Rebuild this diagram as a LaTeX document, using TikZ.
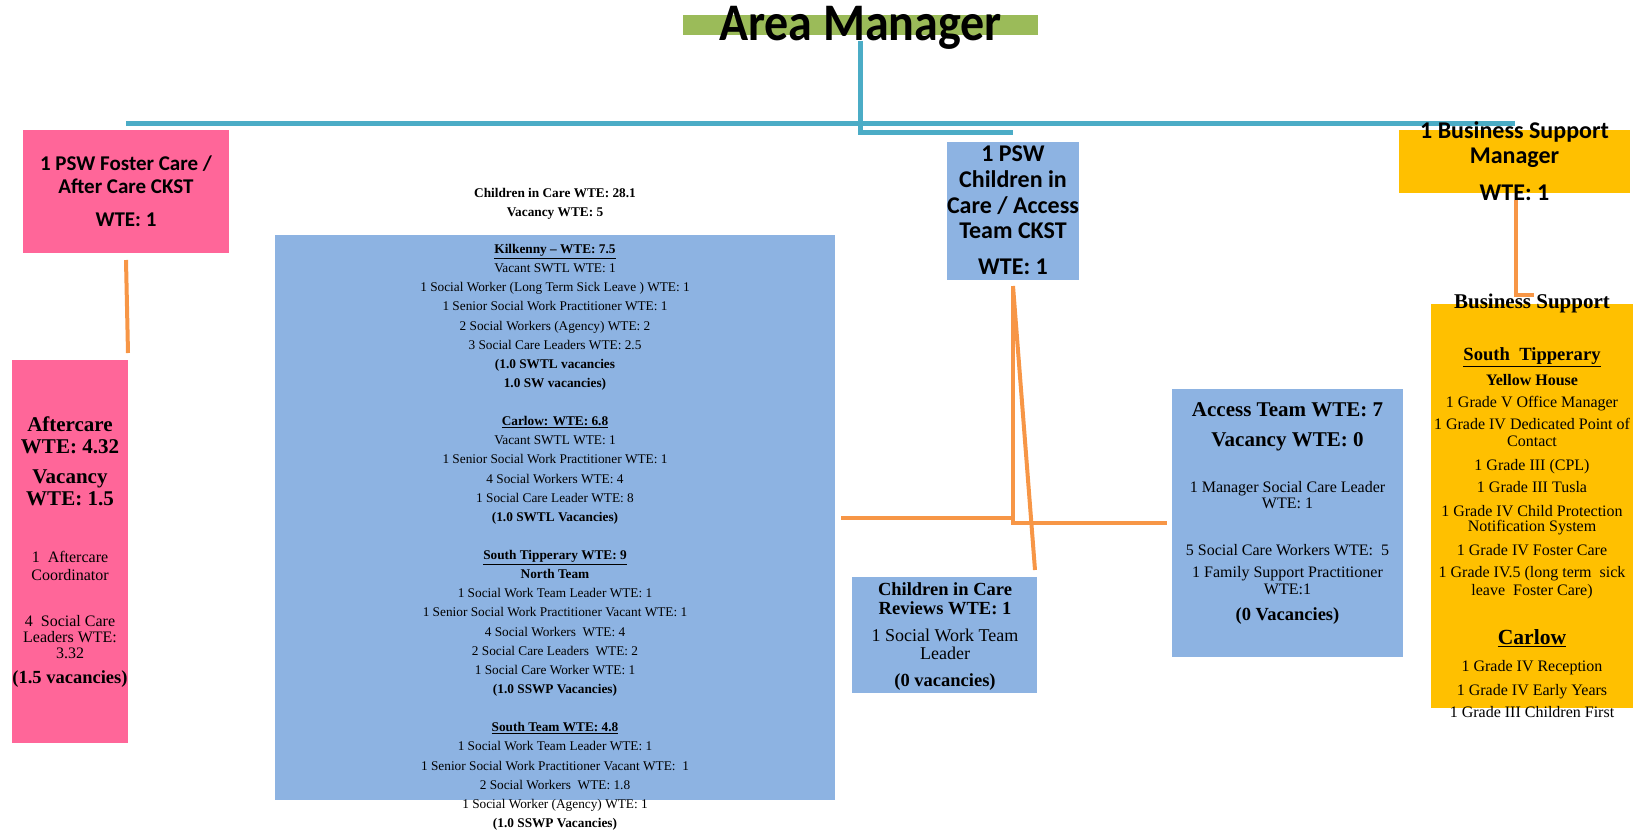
\documentclass[tikz,border=0pt]{standalone}
\usepackage{fontspec}
\usepackage{graphicx}
\setmainfont{Liberation Serif}
\newfontfamily\carlito{Carlito}
\usetikzlibrary{fit,calc}
\definecolor{amgreen}{HTML}{9BBB59}
\definecolor{pinkc}{HTML}{FF6699}
\definecolor{bluec}{HTML}{8DB3E2}
\definecolor{goldc}{HTML}{FFC000}
\definecolor{orangec}{HTML}{F79646}
\definecolor{tealc}{HTML}{4BACC6}
\begin{document}
\begin{tikzpicture}[x=1pt,y=-1pt,
  boxfill/.style={inner sep=0pt, outer sep=0pt, draw=none},
  greenbox/.style={boxfill, fill=amgreen},
  pinkbox/.style={boxfill, fill=pinkc},
  bluebox/.style={boxfill, fill=bluec},
  goldbox/.style={boxfill, fill=goldc},
  tealline/.style={draw=tealc, line width=5pt},
  orangeline/.style={draw=orangec, line width=4pt},
  txt/.style={anchor=base, inner sep=0pt, outer sep=0pt},
  sb/.style={txt, font=\carlito\bfseries\fontsize{#1}{#1}\selectfont},
  rb/.style={txt, font=\bfseries\fontsize{#1}{#1}\selectfont},
  rr/.style={txt, font=\fontsize{#1}{#1}\selectfont}
]
\useasboundingbox (0,0) rectangle (1633,831);

% boxes
\node[greenbox, fit={(683,15) (1038,35)}] (am) {};
\node[pinkbox, fit={(23,130) (229,253)}] (psw1) {};
\node[pinkbox, fit={(12,360) (128,743)}] (aft) {};
\node[bluebox, fit={(275,235) (835,800)}] (cic) {};
\node[bluebox, fit={(947,141.6) (1079,280)}] (psw2) {};
\node[bluebox, fit={(852,577) (1037,693)}] (rev) {};
\node[bluebox, fit={(1172,389) (1403,657)}] (acc) {};
\node[goldbox, fit={(1399,130) (1630,193)}] (bsm) {};
\node[goldbox, fit={(1431,304) (1633,708)}] (bs) {};

% teal connectors
\draw[tealline] (psw1.north |- 0,123) -- (bsm.north |- 0,123);
\draw[tealline] ($(am.south)+(0,6)$) -- (am.south |- 0,132) -- (psw2.north |- 0,132);

% orange connectors
\draw[orangeline] ($(psw1.south)+(0,7)$) -- ($(aft.north east)+(0,-7)$);
\draw[orangeline] ($(psw2.south)+(0,6)$) -- ($(rev.north east)+(-2,-7)$);
\draw[orangeline] ($(psw2.south)+(0,6)$) -- (psw2.south |- acc.west) -- ($(acc.west)+(-5,0)$);
\draw[orangeline] ($(cic.east)+(6,0)$) -- (psw2.south |- cic.east);
\draw[orangeline] ($(bsm.south)+(1.5,7)$) |- ($(bs.north)+(2,-9)$);

% Area Manager
\node[sb=48] (am-t) at (860.5,40) {\scalebox{1}[1.1]{Area Manager}};

% PSW foster care
\node[sb=21] (psw1-a) at (126,170) {1 PSW Foster Care /};
\node[sb=21] (psw1-b) at (126,193) {After Care CKST};
\node[sb=21] (psw1-c) at (126,226) {WTE: 1};

% Aftercare
\node[rb=21] (aft-a) at (70,431.7) {Aftercare};
\node[rb=21] (aft-b) at (70,453.3) {WTE: 4.32};
\node[rb=21] (aft-c) at (70,483) {Vacancy};
\node[rb=21] (aft-d) at (70,505.7) {WTE: 1.5};
\node[rr=16] (aft-e) at (70,562.7) {1\ \ Aftercare};
\node[rr=16] (aft-f) at (70,580) {Coordinator};
\node[rr=16] (aft-g) at (70,626) {4\ \ Social Care};
\node[rr=16] (aft-h) at (70,642.3) {Leaders WTE:};
\node[rr=16] (aft-i) at (70,658.3) {3.32};
\node[rb=18.5] (aft-j) at (70,683.3) {(1.5 vacancies)};

% Children in care header
\node[rb=13.3] (cic-h1) at (555,197) {Children in Care WTE: 28.1};
\node[rb=13.3] (cic-h2) at (555,216.5) {Vacancy WTE: 5};

% Children in care big box
\foreach \k/\mytext in {
  0/{\underline{\textbf{Kilkenny – WTE: 7.5}}},
  1/{Vacant SWTL WTE: 1},
  2/{1 Social Worker (Long Term Sick Leave ) WTE: 1},
  3/{1 Senior Social Work Practitioner WTE: 1},
  4/{2 Social Workers (Agency) WTE: 2},
  5/{3 Social Care Leaders WTE: 2.5},
  6/{\textbf{(1.0 SWTL vacancies}},
  7/{\textbf{1.0 SW vacancies)}},
  9/{\underline{\textbf{Carlow: WTE: 6.8}}},
  10/{Vacant SWTL WTE: 1},
  11/{1 Senior Social Work Practitioner WTE: 1},
  12/{4 Social Workers WTE: 4},
  13/{1 Social Care Leader WTE: 8},
  14/{\textbf{(1.0 SWTL Vacancies)}},
  16/{\underline{\textbf{South Tipperary WTE: 9}}},
  17/{\textbf{North Team}},
  18/{1 Social Work Team Leader WTE: 1},
  19/{1 Senior Social Work Practitioner Vacant WTE: 1},
  20/{4 Social Workers\ \ WTE: 4},
  21/{2 Social Care Leaders\ \ WTE: 2},
  22/{1 Social Care Worker WTE: 1},
  23/{\textbf{(1.0 SSWP Vacancies)}},
  25/{\underline{\textbf{South Team WTE: 4.8}}},
  26/{1 Social Work Team Leader WTE: 1},
  27/{1 Senior Social Work Practitioner Vacant WTE:\ \ 1},
  28/{2 Social Workers\ \ WTE: 1.8},
  29/{1 Social Worker (Agency) WTE: 1},
  30/{\textbf{(1.0 SSWP Vacancies)}}}
  \node[rr=13.3] (cic-\k) at (555,{253.5+19.13*\k}) {\mytext};

% PSW children in care
\node[sb=24] (psw2-a) at (1013,161) {1 PSW};
\node[sb=24] (psw2-b) at (1013,187) {Children in};
\node[sb=24] (psw2-c) at (1013,213) {Care / Access};
\node[sb=24] (psw2-d) at (1013,238.5) {Team CKST};
\node[sb=24] (psw2-e) at (1013,274.5) {WTE: 1};

% Reviews
\node[rb=18.5] (rev-a) at (945,595) {Children in Care};
\node[rb=18.5] (rev-b) at (945,614) {Reviews WTE: 1};
\node[rr=18] (rev-c) at (945,641) {1 Social Work Team};
\node[rr=18] (rev-d) at (945,659.3) {Leader};
\node[rb=18.5] (rev-e) at (945,686.7) {(0 vacancies)};

% Access team
\node[rb=21] (acc-a) at (1287.5,416) {Access Team WTE: 7};
\node[rb=21] (acc-b) at (1287.5,446.7) {Vacancy WTE: 0};
\node[rr=16] (acc-c) at (1287.5,492.7) {1 Manager Social Care Leader};
\node[rr=16] (acc-d) at (1287.5,508.3) {WTE: 1};
\node[rr=16] (acc-e) at (1287.5,555) {5 Social Care Workers WTE:\ \ 5};
\node[rr=16] (acc-f) at (1287.5,577) {1 Family Support Practitioner};
\node[rr=16] (acc-g) at (1287.5,594) {WTE:1};
\node[rb=18.5] (acc-h) at (1287.5,620) {(0 Vacancies)};

% Business support manager
\node[sb=24] (bsm-a) at (1514.5,138.5) {1 Business Support};
\node[sb=24] (bsm-b) at (1514.5,163.5) {Manager};
\node[sb=24] (bsm-c) at (1514.5,200.5) {WTE: 1};

% Business support
\node[rb=21] (bs-a) at (1532,308) {Business Support};
\node[rb=18.6] (bs-b) at (1532,360.7) {\underline{South\ \ Tipperary}};
\node[rb=16] (bs-c) at (1532,385) {Yellow House};
\foreach \myy/\mytext [count=\i] in {
  407.3/{1 Grade V Office Manager},
  429/{1 Grade IV Dedicated Point of},
  446.7/{Contact},
  470/{1 Grade III (CPL)},
  492.7/{1 Grade III Tusla},
  516/{1 Grade IV Child Protection},
  531.7/{Notification System},
  555/{1 Grade IV Foster Care},
  577.7/{1 Grade IV.5 (long term\ \ sick},
  595/{leave\ \ Foster Care)},
  671.7/{1 Grade IV Reception},
  695/{1 Grade IV Early Years},
  717.7/{1 Grade III Children First}}
  \node[rr=16] (bs-l\i) at (1532,\myy) {\mytext};
\node[rb=21.6] (bs-carlow) at (1532,644.7) {\underline{Carlow}};
\end{tikzpicture}
\end{document}
